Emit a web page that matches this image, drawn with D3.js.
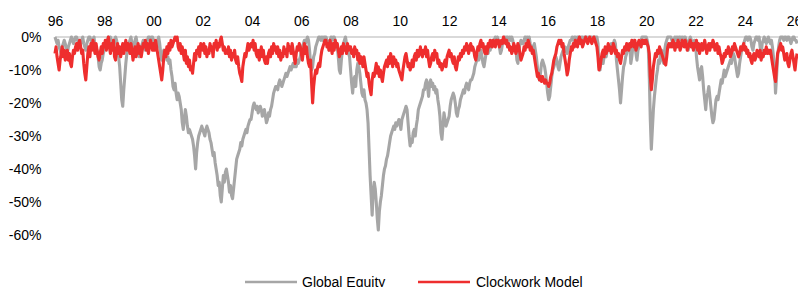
<!DOCTYPE html>
<html><head><meta charset="utf-8">
<script src="https://cdn.jsdelivr.net/npm/d3@7"></script>
<style>
body{margin:0;background:#fff;overflow:hidden}
text{font-family:"Liberation Sans",Arial,sans-serif;fill:#000}
</style>
</head><body>
<svg id="chart" width="798" height="287"></svg>
<script>
// ---- data (drawdown %, two readings per month, one row per year starting 1996) ----
const startYear = 1996;
const xTickYears = d3.range(1996, 2027, 2);
const yTickValues = [0, -10, -20, -30, -40, -50, -60];
const seriesNames = ["Global Equity", "Clockwork Model"];

const globalEquity = [
 [0,-1,-2,-1,-3,-4,-5,-3,-2,-1,-2,-4,-5,-3,-2,-1,0,-1,-2,-1,0,0,-1,-2],
 [-1,-2,-1,0,-2,-3,-4,-2,-1,0,0,-1,-2,-1,0,-3,-5,-4,-6,-9,-10,-8,-7,-5],
 [-4,-3,-2,-1,0,-1,0,-1,-2,-3,-1,0,-1,-3,-6,-9,-14,-19,-21,-16,-12,-8,-5,-3],
 [-2,-1,0,-2,-4,-3,-1,0,-2,-4,-6,-5,-3,-2,-1,-3,-4,-2,-1,0,0,-1,0,0],
 [-1,-3,-2,-4,-1,0,-2,-5,-7,-5,-4,-6,-5,-7,-6,-8,-7,-10,-12,-15,-16,-14,-17,-19],
 [-17,-18,-20,-22,-26,-28,-25,-22,-24,-27,-29,-28,-29,-30,-31,-33,-36,-40,-35,-32,-30,-29,-28,-27],
 [-28,-29,-30,-28,-27,-28,-29,-31,-32,-34,-36,-35,-38,-40,-42,-45,-44,-48,-50,-46,-42,-44,-41,-40],
 [-42,-44,-47,-45,-48,-49,-46,-43,-40,-37,-36,-35,-34,-32,-33,-31,-30,-29,-28,-29,-27,-26,-25,-25],
 [-23,-21,-20,-21,-22,-21,-23,-22,-21,-22,-24,-23,-22,-24,-26,-25,-23,-24,-22,-21,-19,-17,-16,-15],
 [-15,-16,-14,-13,-14,-15,-14,-13,-12,-11,-12,-11,-10,-9,-10,-9,-8,-9,-8,-9,-7,-8,-7,-6],
 [-4,-3,-2,-1,-2,-1,0,-1,-4,-8,-10,-9,-6,-5,-3,-2,-1,0,0,-1,0,-1,0,0],
 [0,-1,-2,-4,-1,0,-1,0,0,-1,-2,-3,-6,-10,-11,-7,-4,-2,-1,0,-2,-4,-5,-6],
 [-10,-14,-17,-13,-12,-15,-10,-8,-9,-11,-14,-17,-18,-16,-19,-20,-22,-26,-34,-42,-48,-54,-47,-44],
 [-46,-50,-55,-58.5,-53,-50,-48,-45,-42,-40,-39,-37,-36,-34,-32,-30,-29,-28,-27,-28,-26,-27,-26,-25],
 [-26,-28,-25,-24,-23,-22,-21,-22,-26,-30,-33,-31,-32,-29,-28,-30,-27,-25,-22,-21,-20,-19,-18,-16],
 [-16,-14,-13,-15,-18,-14,-13,-15,-14,-16,-15,-17,-16,-19,-21,-24,-29,-31,-27,-23,-25,-27,-26,-25],
 [-24,-21,-19,-18,-17,-18,-20,-23,-24,-22,-21,-19,-18,-17,-16,-17,-15,-14,-15,-16,-14,-13,-13,-12],
 [-11,-9,-8,-7,-6,-7,-5,-4,-6,-8,-9,-7,-5,-4,-5,-3,-4,-2,-1,-2,-1,0,-1,0],
 [-1,-3,-5,-4,-2,-1,0,-1,0,0,-1,0,-1,0,-1,-3,-4,-3,-7,-8,-4,-2,-1,-2],
 [-2,-1,0,-1,0,-1,0,-2,-3,-4,-3,-2,-4,-6,-9,-12,-13,-11,-8,-7,-8,-9,-11,-14],
 [-17,-19,-18,-15,-12,-10,-9,-8,-6,-7,-9,-10,-8,-6,-5,-4,-4,-3,-4,-5,-3,-2,-1,-1],
 [0,-1,0,0,-1,0,0,0,-1,0,0,-1,0,0,0,-1,0,0,0,0,-1,0,0,0],
 [0,-2,-9,-10,-7,-6,-8,-6,-5,-6,-4,-3,-4,-3,-2,-3,-2,-1,-2,-7,-10,-13,-16,-20],
 [-16,-12,-9,-8,-6,-5,-3,-4,-2,-8,-6,-3,-1,-2,-5,-7,-4,-3,-2,-1,0,0,0,0],
 [0,-1,-3,-12,-25,-34,-28,-22,-18,-15,-12,-10,-7,-8,-5,-4,-7,-8,-4,-2,-1,0,0,0],
 [0,-1,-2,-1,0,-1,0,-1,0,0,-1,0,-1,0,0,-1,-3,-4,-1,0,-1,-3,-2,-1],
 [-2,-6,-9,-11,-13,-10,-9,-12,-16,-19,-22,-18,-17,-15,-18,-21,-24,-26,-25,-22,-19,-18,-19,-17],
 [-15,-13,-14,-12,-10,-12,-11,-10,-9,-8,-7,-8,-6,-5,-6,-8,-10,-12,-11,-8,-6,-4,-3,-2],
 [-1,0,0,-1,0,0,-1,-3,-4,-2,-1,0,0,-1,0,-3,-5,-2,-1,0,-1,-2,-1,0],
 [-1,-2,-1,-3,-6,-9,-17,-12,-6,-3,-1,0,0,0,-1,0,0,-1,0,0,-1,-2,-1,0],
 [0,-1,-1,-2]
];

const clockworkModel = [
 [-5,-3,-6,-8,-10,-7,-5,-3,-6,-4,-7,-6,-4,-7,-5,-8,-9,-6,-4,-5,-3,-2,-4,-2],
 [-1,-3,-5,-4,-8,-11,-13,-9,-5,-3,-6,-2,-4,-1,-3,-5,-2,-4,-6,-7,-5,-3,-5,-2],
 [-3,-1,-4,-2,0,-3,-5,-2,-4,-1,-6,-7,-4,-2,-5,-3,-6,-4,-2,-5,-3,-1,-4,-2],
 [-3,-5,-2,-4,-7,-5,-3,-6,-4,-2,-5,-3,-6,-4,-2,-3,-1,-4,-2,-5,-3,-1,-2,-4],
 [-2,-4,-1,-3,-5,-7,-9,-11,-13,-10,-6,-4,-6,-3,-5,-2,-4,-1,-3,-2,-1,0,-1,0],
 [-3,-4,-2,-5,-3,-5,-7,-4,-8,-6,-9,-7,-10,-9,-11,-8,-5,-7,-4,-5,-3,-6,-2,-3],
 [-4,-2,-5,-3,-6,-4,-5,-2,-4,-3,-6,-2,-3,-1,-4,-2,-3,-1,0,-2,-4,-3,-5,-4],
 [-5,-3,-6,-4,-7,-5,-6,-4,-7,-8,-6,-9,-11,-12,-13.5,-9,-7,-5,-6,-4,-2,-4,-3,-2],
 [-3,-1,-4,-2,-5,-6,-4,-7,-5,-3,-6,-4,-7,-8,-6,-8,-5,-4,-6,-3,-5,-2,-4,-3],
 [-5,-3,-6,-4,-7,-5,-6,-3,-5,-4,-6,-2,-4,-3,-5,-2,-4,-6,-8,-5,-3,-4,-2,-3],
 [-5,-7,-4,-2,-5,-3,-6,-8,-9,-7,-14,-20,-15,-12,-10,-11,-9,-8,-9,-6,-4,-3,-2,-1],
 [-1,-3,-2,-4,-1,-3,-5,-2,-4,-1,-3,-2,-4,-6,-5,-3,-5,-2,-4,-3,-5,-2,-4,-3],
 [-3,-5,-4,-6,-3,-5,-4,-7,-5,-8,-6,-7,-9,-6,-8,-10,-12,-11,-14,-16,-17.5,-13,-11,-12],
 [-10,-8,-11,-9,-12,-10,-12,-13.5,-11,-9,-8,-7,-9,-6,-8,-5,-7,-9,-6,-8,-7,-9,-8,-10],
 [-11,-12,-13,-10,-8,-6,-5,-7,-9,-8,-10,-9,-7,-9,-6,-5,-7,-4,-6,-5,-3,-5,-6,-4],
 [-5,-3,-6,-4,-7,-9,-8,-6,-5,-7,-4,-6,-5,-8,-7,-9,-8,-10,-9,-8,-7,-9,-6,-5],
 [-4,-6,-5,-7,-8,-6,-9,-10,-8,-6,-7,-5,-6,-4,-5,-3,-4,-2,-3,-5,-3,-2,-4,-3],
 [-4,-6,-7,-5,-3,-4,-2,-1,-3,-2,-4,-5,-3,-5,-2,-3,-1,-2,-3,-1,-2,-3,-1,-2],
 [-1,-3,-2,-1,-2,0,-1,-2,-1,-3,-2,-4,-3,-5,-4,-2,-3,-5,-4,-2,-3,-5,-7,-6],
 [-5,-3,-4,-2,-3,-1,-2,-4,-3,-5,-4,-6,-8,-10,-12,-11,-13,-12,-13.5,-12,-13,-14,-13,-14],
 [-14,-15,-14,-12,-11,-9,-7,-6,-5,-3,-2,-1,-2,-1,-3,-2,-5,-7,-9,-11.5,-10,-7,-5,-3],
 [-4,-2,-3,-1,-2,-3,-1,0,-2,-1,-3,-2,-1,0,-1,-2,-1,0,-1,-2,-1,0,-1,-2],
 [-3,-6,-10,-9,-7,-5,-4,-6,-3,-5,-4,-2,-4,-3,-5,-4,-2,-3,-5,-4,-6,-5,-7,-8],
 [-6,-4,-5,-3,-4,-2,-3,-4,-2,-3,-1,-2,-3,-1,-4,-3,-2,-1,-2,-3,-1,-2,-1,-2],
 [-1,-2,-3,-5,-12,-16,-13,-9,-7,-5,-6,-4,-5,-3,-4,-5,-6,-7,-8,-8.5,-6,-3,-2,-3],
 [-2,-3,-1,-2,-4,-2,-3,-1,-2,-4,-3,-1,-2,-3,-1,-2,-4,-3,-2,-1,-3,-2,-4,-2],
 [-3,-1,-4,-2,-5,-3,-2,-4,-3,-1,-3,-5,-3,-2,-4,-2,-3,-1,-2,-4,-3,-2,-5,-3],
 [-5,-6,-8,-7,-5,-6,-4,-5,-3,-4,-6,-5,-3,-4,-2,-3,-4,-5,-6,-5,-3,-4,-3,-2],
 [-4,-3,-5,-4,-6,-5,-7,-8,-6,-5,-7,-6,-4,-5,-6,-4,-7,-5,-6,-4,-5,-3,-5,-4],
 [-5,-4,-6,-8,-10,-12,-13.5,-9,-5,-4,-3,-2,-4,-3,-5,-7,-6,-5,-8,-9,-7,-5,-4,-6],
 [-8,-10,-7,-5]
];

// ---- build points ----
function toPoints(rows){
  const pts = [];
  rows.forEach((row, yi) => row.forEach((v, j) => pts.push({t: startYear + yi + j/24, v})));
  return pts;
}
const series = [
  {name: seriesNames[0], pts: toPoints(globalEquity), color: "#a6a6a6"},
  {name: seriesNames[1], pts: toPoints(clockworkModel), color: "#ee2e2e"}
];

const svg = d3.select("#chart");
const x = d3.scaleLinear().domain([1996, 2026]).range([55, 794]);
const y = d3.scaleLinear().domain([0, -60]).range([37, 235]);

// zero line
svg.append("line")
  .attr("x1", x(1996)).attr("x2", 798)
  .attr("y1", y(0)).attr("y2", y(0))
  .attr("stroke", "#d9d9d9").attr("stroke-width", 2);

const line = d3.line().x(d => x(d.t)).y(d => y(d.v));
series.forEach(s => {
  svg.append("path").datum(s.pts)
    .attr("d", line).attr("fill", "none")
    .attr("stroke", s.color).attr("stroke-width", 3.1)
    .attr("stroke-linejoin", "round");
});

// x axis (top)
const xAxis = svg.append("g").attr("transform", "translate(0,25.5)")
  .call(d3.axisTop(x).tickValues(xTickYears).tickSize(0).tickPadding(0)
    .tickFormat(d => String(d % 100).padStart(2, "0")));
xAxis.select(".domain").remove();
xAxis.selectAll("text").attr("font-size", 14).attr("font-family", "Liberation Sans, Arial, sans-serif").attr("fill", "#000");

// y axis
const yAxis = svg.append("g").attr("transform", "translate(41.5,0)")
  .call(d3.axisLeft(y).tickValues(yTickValues).tickSize(0).tickPadding(0)
    .tickFormat(d => d + "%"));
yAxis.select(".domain").remove();
yAxis.selectAll("text").attr("font-size", 14).attr("font-family", "Liberation Sans, Arial, sans-serif").attr("fill", "#000");

// legend
const legendPos = [{x1: 245, x2: 297, tx: 302}, {x1: 418, x2: 470, tx: 476}];
series.forEach((s, i) => {
  const p = legendPos[i];
  svg.append("line").attr("x1", p.x1).attr("x2", p.x2).attr("y1", 282).attr("y2", 282)
    .attr("stroke", s.color).attr("stroke-width", 2.7);
  svg.append("text").attr("x", p.tx).attr("y", 287).attr("font-size", 14).text(s.name);
});
</script>
</body></html>
